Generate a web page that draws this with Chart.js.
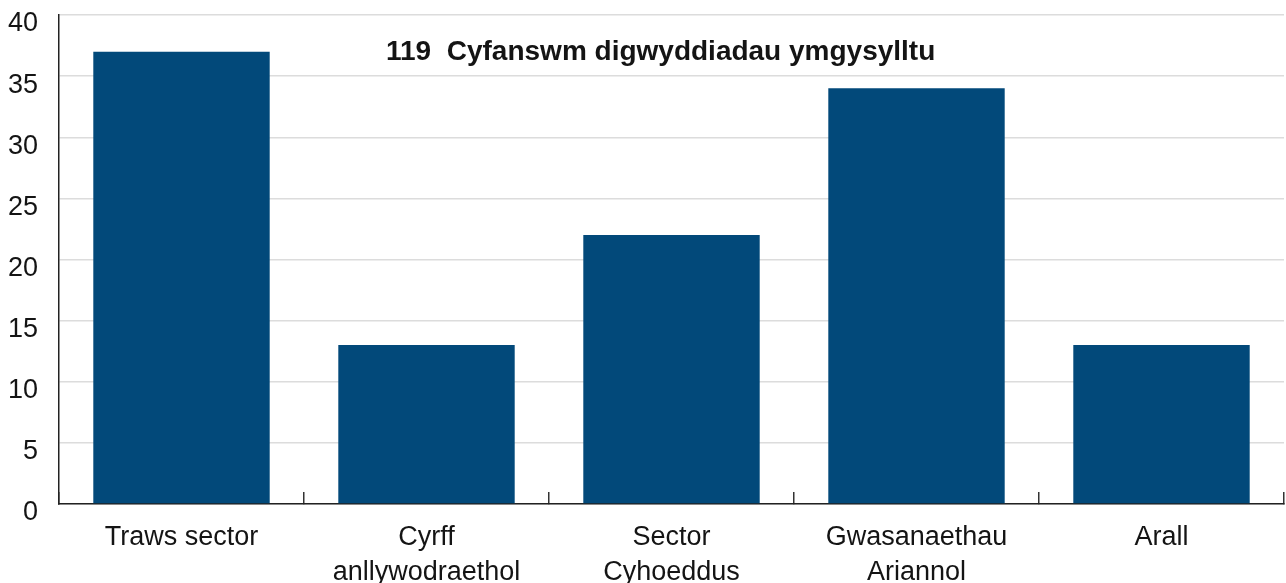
<!DOCTYPE html>
<html>
<head>
<meta charset="utf-8">
<script src="https://cdn.jsdelivr.net/npm/chart.js@4"></script>
<style>
  html, body { margin: 0; padding: 0; background: #fff; }
  #wrap { width: 1286px; height: 583px; }
</style>
</head>
<body>
<div id="wrap"><canvas id="engagement-chart"></canvas></div>
<script>
const categories = [
  ['Traws sector'],
  ['Cyrff', 'anllywodraethol'],
  ['Sector', 'Cyhoeddus'],
  ['Gwasanaethau', 'Ariannol'],
  ['Arall'],
];
const engagementCounts = [37, 13, 22, 34, 13];
const totalLabel = '119  Cyfanswm digwyddiadau ymgysylltu';
const yTicks = [0, 5, 10, 15, 20, 25, 30, 35, 40];

const fontFamily = "'Liberation Sans', Arial, sans-serif";
const textColor = '#141414';

// draws the total label inside the plot area
const totalLabelPlugin = {
  id: 'totalLabel',
  afterDatasetsDraw(chart) {
    const { ctx, chartArea } = chart;
    ctx.save();
    ctx.font = `bold 28px ${fontFamily}`;
    ctx.fillStyle = textColor;
    ctx.textAlign = 'left';
    ctx.textBaseline = 'middle';
    ctx.fillText(totalLabel, chartArea.left + 327, chartArea.top + 37);
    ctx.restore();
  },
};

const ctx = document.getElementById('engagement-chart').getContext('2d');
new Chart(ctx, {
  type: 'bar',
  data: {
    labels: categories,
    datasets: [{
      data: engagementCounts,
      backgroundColor: '#02497a',
      borderWidth: 0,
      categoryPercentage: 1,
      barPercentage: 0.72,
    }],
  },
  options: {
    responsive: true,
    maintainAspectRatio: false,
    animation: false,
    layout: { padding: { top: 15, right: 2, left: 0, bottom: 0 } },
    plugins: {
      legend: { display: false },
      tooltip: { enabled: false },
    },
    scales: {
      x: {
        grid: {
          display: true,
          offset: true,
          drawOnChartArea: false,
          drawTicks: true,
          tickLength: -12,
          color: '#333',
          lineWidth: 1.5,
        },
        border: { color: '#222', width: 1.5 },
        ticks: {
          color: textColor,
          font: { family: fontFamily, size: 27, lineHeight: 1.3 },
          padding: 28,
          maxRotation: 0,
          autoSkip: false,
        },
        afterFit(scale) {
          scale.height = 79;
          scale.paddingLeft = 0;
          scale.paddingRight = 0;
        },
      },
      y: {
        min: 0,
        max: 40,
        afterBuildTicks(scale) { scale.ticks = yTicks.map(v => ({ value: v })); },
        grid: { color: '#dcdcdc', lineWidth: 1.5, drawTicks: false },
        border: { color: '#222', width: 1.5 },
        ticks: {
          color: textColor,
          font: { family: fontFamily, size: 27 },
          padding: 21,
          labelOffset: 9,
        },
        afterFit(scale) {
          scale.width = 59;
          scale.paddingTop = 0;
          scale.paddingBottom = 0;
        },
      },
    },
  },
  plugins: [totalLabelPlugin],
});
</script>
</body>
</html>
